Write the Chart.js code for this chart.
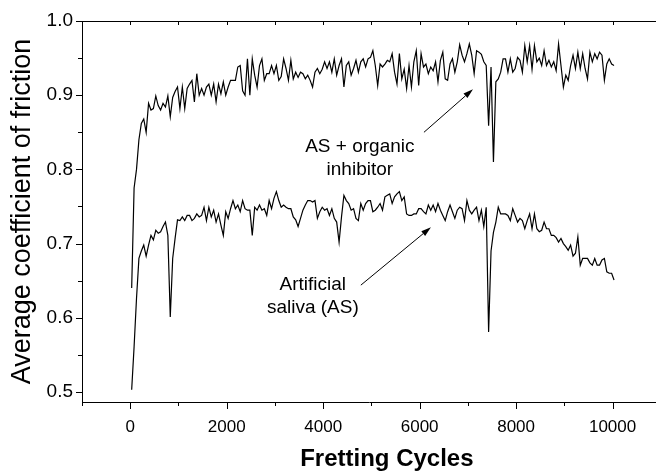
<!DOCTYPE html>
<html><head><meta charset="utf-8">
<script src="https://cdn.jsdelivr.net/npm/chart.js@4/dist/chart.umd.min.js"></script>
<style>html,body{margin:0;padding:0;background:#fff;overflow:hidden}canvas{display:block}</style>
</head><body>
<canvas id="c" width="656" height="472"></canvas>
<script>
// ---- data ----
const cycleStart = 30;
const cycleStep = 50;
const inhibitorCOF = [
0.640,0.775,0.800,0.840,0.862,0.868,0.850,0.889,0.880,0.882,
0.899,0.886,0.880,0.889,0.884,0.899,0.871,0.897,0.905,0.911,
0.882,0.911,0.882,0.909,0.915,0.920,0.891,0.929,0.900,0.909,
0.900,0.911,0.915,0.900,0.915,0.891,0.915,0.902,0.918,0.900,
0.911,0.920,0.920,0.920,0.938,0.940,0.906,0.900,0.949,0.900,
0.949,0.927,0.911,0.940,0.949,0.920,0.929,0.929,0.940,0.929,
0.940,0.920,0.925,0.949,0.936,0.920,0.947,0.922,0.931,0.924,
0.931,0.929,0.922,0.927,0.920,0.911,0.931,0.936,0.929,0.935,
0.945,0.936,0.945,0.931,0.949,0.927,0.940,0.949,0.911,0.940,
0.945,0.927,0.936,0.947,0.931,0.945,0.949,0.938,0.949,0.951,
0.960,0.940,0.913,0.942,0.938,0.942,0.947,0.945,0.956,0.931,
0.915,0.956,0.922,0.935,0.909,0.940,0.911,0.945,0.960,0.913,
0.956,0.938,0.942,0.929,0.938,0.933,0.945,0.918,0.947,0.958,
0.922,0.920,0.942,0.949,0.931,0.945,0.968,0.954,0.945,0.956,
0.969,0.954,0.929,0.960,0.958,0.955,0.945,0.940,0.859,0.938,
0.810,0.918,0.922,0.931,0.949,0.949,0.931,0.949,0.931,0.936,
0.951,0.947,0.931,0.967,0.945,0.967,0.935,0.967,0.945,0.950,
0.940,0.960,0.940,0.947,0.938,0.945,0.933,0.969,0.940,0.911,
0.927,0.920,0.940,0.954,0.936,0.958,0.936,0.956,0.936,0.922,
0.958,0.945,0.956,0.949,0.958,0.954,0.920,0.942,0.949,0.942,
0.940];
const salivaCOF = [
0.503,0.561,0.626,0.680,0.690,0.698,0.683,0.698,0.711,0.705,
0.718,0.714,0.716,0.723,0.729,0.711,0.601,0.680,0.707,0.732,
0.731,0.736,0.731,0.738,0.738,0.731,0.734,0.740,0.736,0.738,
0.749,0.731,0.749,0.736,0.745,0.729,0.740,0.725,0.711,0.743,
0.734,0.747,0.758,0.747,0.752,0.743,0.758,0.747,0.745,0.745,
0.711,0.749,0.745,0.752,0.745,0.747,0.738,0.758,0.747,0.761,
0.770,0.758,0.749,0.752,0.749,0.747,0.747,0.736,0.732,0.723,
0.734,0.745,0.752,0.758,0.758,0.756,0.758,0.734,0.743,0.749,
0.745,0.747,0.738,0.747,0.734,0.729,0.702,0.736,0.765,0.758,
0.754,0.745,0.747,0.734,0.731,0.754,0.745,0.754,0.758,0.758,
0.743,0.745,0.749,0.754,0.745,0.763,0.765,0.767,0.754,0.763,
0.767,0.770,0.758,0.763,0.740,0.738,0.738,0.740,0.740,0.747,
0.747,0.743,0.740,0.752,0.745,0.752,0.743,0.754,0.745,0.738,
0.731,0.743,0.752,0.743,0.734,0.745,0.749,0.747,0.731,0.758,
0.745,0.740,0.745,0.749,0.731,0.745,0.723,0.749,0.581,0.690,
0.715,0.729,0.749,0.740,0.740,0.740,0.738,0.731,0.747,0.738,
0.729,0.734,0.731,0.720,0.731,0.740,0.720,0.740,0.720,0.716,
0.718,0.729,0.720,0.720,0.711,0.711,0.708,0.702,0.707,0.700,
0.696,0.691,0.698,0.683,0.687,0.709,0.671,0.680,0.680,0.680,
0.674,0.671,0.680,0.671,0.671,0.678,0.680,0.662,0.660,0.660,
0.651];
const xLabelTicks = [0, 2000, 4000, 6000, 8000, 10000];
const xMinorTicks = [-1000, 1000, 3000, 5000, 7000, 9000];
const xTopTicks = [0, 1000, 2000, 3000, 4000, 5000, 6000, 7000, 8000, 9000, 10000];
const yLabelTicks = [0.5, 0.6, 0.7, 0.8, 0.9, 1.0];
const yMinorTicks = [0.55, 0.65, 0.75, 0.85, 0.95];
const xTitle = 'Fretting Cycles';
const yTitle = 'Average coefficient of friction';
// annotations in data coordinates
const notes = [
  {lines: ['AS + organic', 'inhibitor'], x: 4760, y: [0.823, 0.792], from: [6089, 0.850], to: [7106, 0.908]},
  {lines: ['Artificial', 'saliva (AS)'], x: 3785, y: [0.637, 0.606], from: [4781, 0.644], to: [6234, 0.722]}
];

const cycles = inhibitorCOF.map((_, i) => cycleStart + i * cycleStep);
const FONT = '"Liberation Sans", Arial, Helvetica, sans-serif';
Chart.defaults.font.family = FONT;
Chart.defaults.color = '#000';

const axisDecor = {
  id: 'axisDecor',
  afterDraw(chart) {
    const {ctx, chartArea: a, scales: {x, y}} = chart;
    ctx.save();
    ctx.strokeStyle = '#000';
    ctx.lineWidth = 1;
    ctx.beginPath();
    ctx.moveTo(a.left, a.top + 0.5); ctx.lineTo(a.right, a.top + 0.5);
    xTopTicks.forEach(v => { const px = Math.round(x.getPixelForValue(v)) + 0.5; ctx.moveTo(px, a.top); ctx.lineTo(px, a.top + 4); });
    xLabelTicks.forEach(v => { const px = Math.round(x.getPixelForValue(v)) + 0.5; ctx.moveTo(px, a.bottom); ctx.lineTo(px, a.bottom + 7); });
    xMinorTicks.forEach(v => { const px = Math.round(x.getPixelForValue(v)) + 0.5; ctx.moveTo(px, a.bottom); ctx.lineTo(px, a.bottom + 4); });
    yLabelTicks.forEach(v => { const py = Math.round(y.getPixelForValue(v)) + 0.5; ctx.moveTo(a.left - 6, py); ctx.lineTo(a.left, py); });
    yMinorTicks.forEach(v => { const py = Math.round(y.getPixelForValue(v)) + 0.5; ctx.moveTo(a.left - 4, py); ctx.lineTo(a.left, py); });
    ctx.stroke();

    ctx.fillStyle = '#000';
    ctx.font = 'bold 24px ' + FONT;
    ctx.textAlign = 'center';
    ctx.textBaseline = 'alphabetic';
    ctx.fillText(xTitle, x.getPixelForValue(5320), a.bottom + 64);

    ctx.font = '19px ' + FONT;
    notes.forEach(n => {
      n.lines.forEach((t, k) => ctx.fillText(t, x.getPixelForValue(n.x), y.getPixelForValue(n.y[k])));
      const x1 = x.getPixelForValue(n.from[0]), y1 = y.getPixelForValue(n.from[1]);
      const x2 = x.getPixelForValue(n.to[0]), y2 = y.getPixelForValue(n.to[1]);
      const ang = Math.atan2(y2 - y1, x2 - x1), L = 10, W = 3;
      const bx = x2 - L * Math.cos(ang), by = y2 - L * Math.sin(ang);
      ctx.beginPath(); ctx.moveTo(x1, y1); ctx.lineTo(bx, by); ctx.stroke();
      ctx.beginPath();
      ctx.moveTo(x2, y2);
      ctx.lineTo(bx + W * Math.sin(ang), by - W * Math.cos(ang));
      ctx.lineTo(bx - W * Math.sin(ang), by + W * Math.cos(ang));
      ctx.closePath(); ctx.fill();
    });
    ctx.restore();
  }
};

new Chart(document.getElementById('c'), {
  type: 'line',
  data: {
    datasets: [
      {label: 'AS + organic inhibitor', data: cycles.map((c, i) => ({x: c, y: inhibitorCOF[i]})),
       borderColor: '#000', borderWidth: 1.2, pointRadius: 0, tension: 0, fill: false},
      {label: 'Artificial saliva (AS)', data: cycles.map((c, i) => ({x: c, y: salivaCOF[i]})),
       borderColor: '#000', borderWidth: 1.2, pointRadius: 0, tension: 0, fill: false}
    ]
  },
  options: {
    responsive: false,
    animation: false,
    devicePixelRatio: 1,
    layout: {padding: {left: 4, top: 21, right: 0, bottom: 0}},
    plugins: {legend: {display: false}, tooltip: {enabled: false}},
    scales: {
      x: {
        type: 'linear', min: -1000, max: 10900,
        grid: {display: false, drawTicks: false},
        border: {display: true, color: '#000', width: 1},
        afterBuildTicks: s => { s.ticks = xLabelTicks.map(v => ({value: v})); },
        afterFit: s => { s.height = 70; s.paddingLeft = 0; s.paddingRight = 0; },
        ticks: {autoSkip: false, maxRotation: 0, padding: 15, font: {size: 17}, color: '#000',
                callback: v => String(v)}
      },
      y: {
        type: 'linear', min: 0.4865, max: 1.0,
        grid: {display: false, drawTicks: false},
        border: {display: true, color: '#000', width: 1},
        afterBuildTicks: s => { s.ticks = yLabelTicks.map(v => ({value: v})); },
        afterFit: s => { s.width = 78; s.paddingTop = 0; s.paddingBottom = 0; },
        ticks: {autoSkip: false, padding: 9, font: {size: 19}, color: '#000',
                callback: v => Number(v).toFixed(1)},
        title: {display: true, text: yTitle, font: {size: 27}, color: '#000', padding: {top: 2, bottom: 0}}
      }
    }
  },
  plugins: [axisDecor]
});
</script>
</body></html>
